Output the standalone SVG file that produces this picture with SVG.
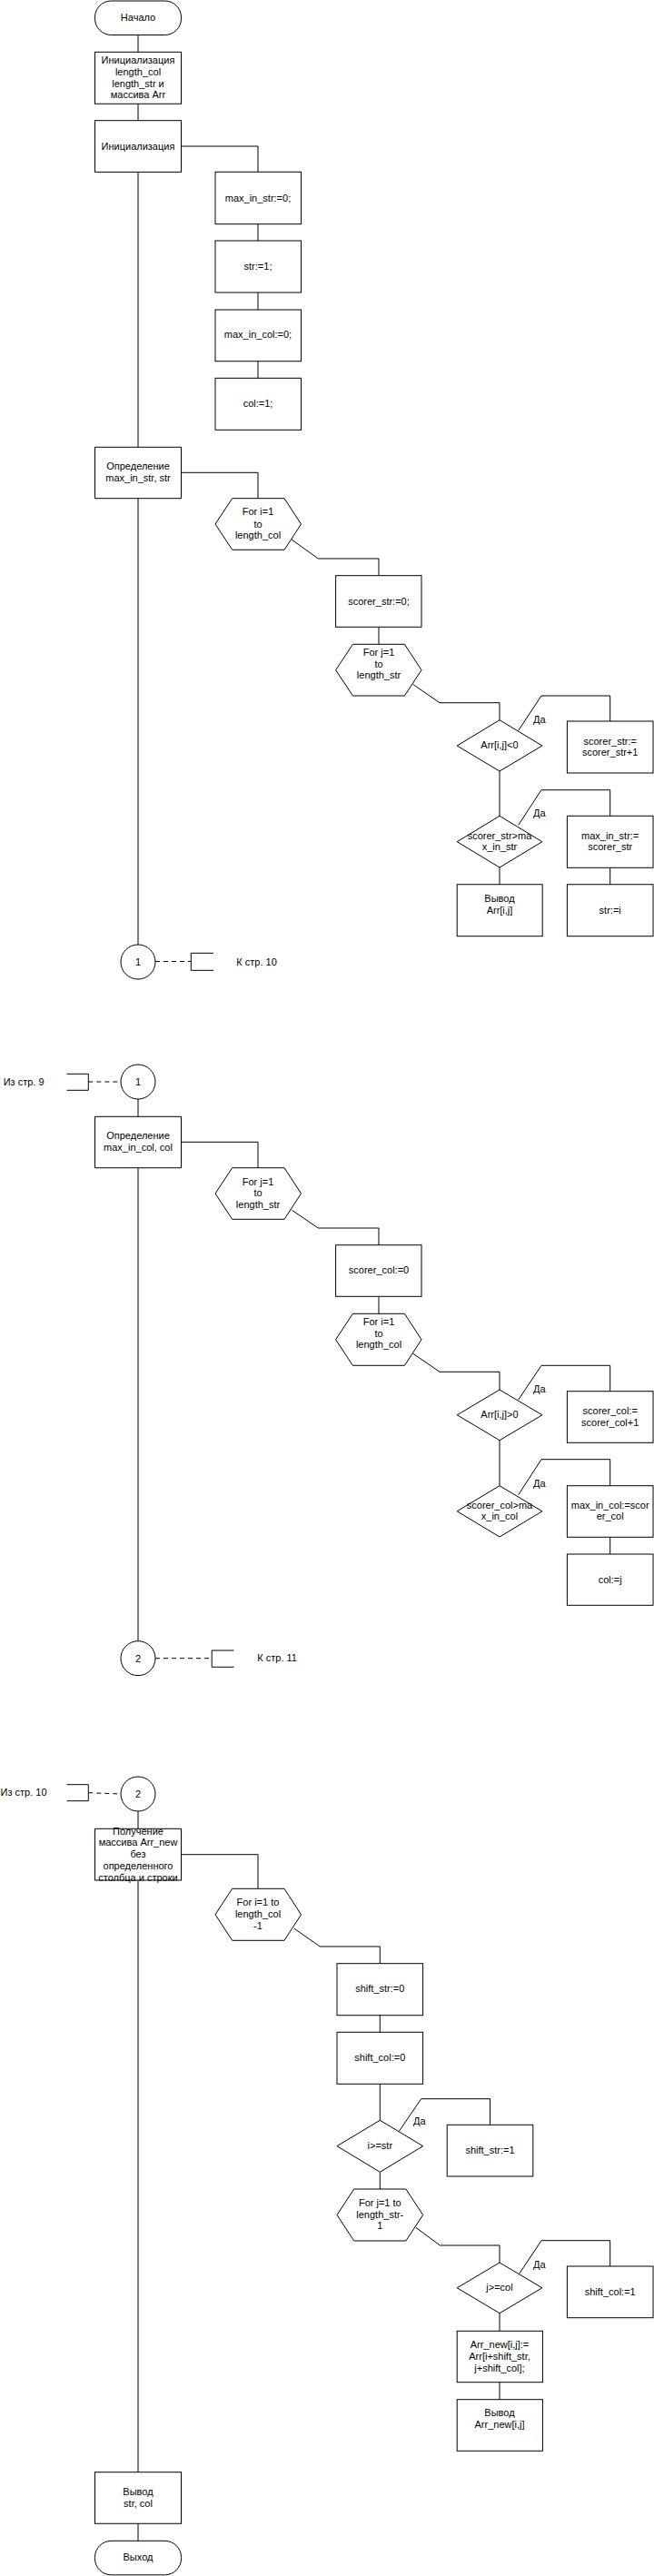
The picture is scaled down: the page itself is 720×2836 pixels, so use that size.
<svg xmlns="http://www.w3.org/2000/svg" width="720" height="2836" viewBox="0 0 720 2836">
<style>
.s{fill:#fff;stroke:#000;stroke-width:1}
.c{fill:none;stroke:#000;stroke-width:1}
.d{fill:none;stroke:#000;stroke-width:1;stroke-dasharray:5,4}
text{font-family:"Liberation Sans",Arial,sans-serif;font-size:11px;fill:#000}
.m{text-anchor:middle}
</style>
<rect width="720" height="2836" fill="#fff"/>
<g id="connectors">
<path class="c" d="M152 38.5V57.3M152 114.3V132.7M199.5 161H284V189.3M284 246.7V265M284 322V341M284 397.7V416.3M152 189.3V492.3"/>
<path class="c" d="M199.5 520.3H284V548.7M321 594L350.3 615H417V633.7M417 690.3V709.3M454.5 753.3L484 773.7H550V792.7M570.7 804.3L596 766H671.7V794M550 849V898.3M570.7 908.3L596 869.7H671.7V898.3M550 955V973.7M671.7 955V973.7M152 548.7V1040"/>
<path class="d" d="M171 1058.5H210.3"/>
<path class="c" d="M235 1049.3H210.3V1068.3H235"/>
<path class="c" d="M73.5 1182.3H97.3V1200.3H73.5"/>
<path class="d" d="M97.3 1191H133"/>
<path class="c" d="M152 1210V1229.3M199.5 1257.3H284V1285.7M321.4 1332.3L350.3 1352H417V1370.7M417 1427.3V1446.3M454.5 1490L484 1510.3H550V1530M570.7 1541L596 1503.3H671.7V1531.7M550 1585.7V1635.7M570.7 1645.7L596 1606.7H671.7V1635.7M671.7 1692.3V1711M152 1285.7V1807.3"/>
<path class="d" d="M171 1825.7H233.2"/>
<path class="c" d="M257.6 1817H233.2V1835.3H257.6"/>
<path class="c" d="M73.5 1964.7H97.3V1982.7H73.5"/>
<path class="d" d="M97.3 1973.7L133 1975"/>
<path class="c" d="M152 1994.3V2013.3M199.5 2041.7H284V2079.3M323.7 2123L352.2 2143H418.3V2161.7M418.3 2218.7V2237.3M418.3 2294.3V2334.3M439.4 2346.3L463.7 2310.7H539.5V2339.3M418.3 2391.3V2410M457.8 2452.3L484.4 2472H550V2491M571.6 2503.3L596 2466.7H671.7V2495M550 2546.7V2566.3M550 2622.7V2641.7M152 2070V2721.7M152 2778.3V2797.3"/>
</g>
<g id="start"><rect class="s" x="104.5" y="1" width="95" height="37.5" rx="18" ry="18"/><text class="m" x="152" y="23">Начало</text></g>
<g id="init1"><rect class="s" x="104.5" y="57.3" width="95" height="57"/><text class="m" x="152" y="70">Инициализация</text><text class="m" x="152" y="82.8">length_col</text><text class="m" x="152" y="95.6">length_str и</text><text class="m" x="152" y="108.4">массива Arr</text></g>
<g id="init2"><rect class="s" x="104.5" y="132.7" width="95" height="56.7"/><text class="m" x="152" y="164.7">Инициализация</text></g>
<g id="maxinstr0"><rect class="s" x="237" y="189.3" width="94.5" height="57.4"/><text class="m" x="284" y="222">max_in_str:=0;</text></g>
<g id="str1"><rect class="s" x="237" y="265" width="94.5" height="57"/><text class="m" x="284" y="297">str:=1;</text></g>
<g id="maxincol0"><rect class="s" x="237" y="341" width="94.5" height="56.7"/><text class="m" x="284" y="372">max_in_col:=0;</text></g>
<g id="col1"><rect class="s" x="237" y="416.3" width="94.5" height="57"/><text class="m" x="284" y="448">col:=1;</text></g>
<g id="defstr"><rect class="s" x="104.5" y="492.3" width="95" height="56.4"/><text class="m" x="152" y="517.3">Определение</text><text class="m" x="152" y="530.3">max_in_str, str</text></g>
<g id="loop1"><polygon class="s" points="237,577 255.7,548.7 313,548.7 331.5,577 313,605.3 255.7,605.3"/><text class="m" x="284" y="567.3">For i=1</text><text class="m" x="284" y="580.7">to</text><text class="m" x="284" y="593.3">length_col</text></g>
<g id="scorerstr0"><rect class="s" x="369.6" y="633.7" width="94.4" height="56.6"/><text class="m" x="417" y="665.7">scorer_str:=0;</text></g>
<g id="loop2"><polygon class="s" points="369.6,737.7 388.4,709.3 445.4,709.3 464,737.7 445.4,766 388.4,766"/><text class="m" x="417" y="721.7">For j=1</text><text class="m" x="417" y="734.7">to</text><text class="m" x="417" y="747.3">length_str</text></g>
<g id="cond1"><polygon class="s" points="503.2,821 550,792.7 596.9,821 550,849"/><text class="m" x="550" y="824">Arr[i,j]&lt;0</text><text x="587" y="795.5">Да</text></g>
<g id="inc1"><rect class="s" x="624.4" y="794" width="94.6" height="57"/><text class="m" x="671.7" y="819.7">scorer_str:=</text><text class="m" x="671.7" y="832.3">scorer_str+1</text></g>
<g id="cond2"><polygon class="s" points="503.2,926.7 550,898.3 596.9,926.7 550,955"/><text class="m" x="550" y="923.7">scorer_str&gt;ma</text><text class="m" x="550" y="936.3">x_in_str</text><text x="587" y="899">Да</text></g>
<g id="setmax1"><rect class="s" x="624.4" y="898.3" width="94.6" height="57"/><text class="m" x="671.7" y="923.7">max_in_str:=</text><text class="m" x="671.7" y="936.3">scorer_str</text></g>
<g id="out1"><rect class="s" x="503.2" y="973.7" width="94" height="57"/><text class="m" x="550" y="992.7">Вывод</text><text class="m" x="550" y="1005.7">Arr[i,j]</text></g>
<g id="stri"><rect class="s" x="624.4" y="973.7" width="94.6" height="57"/><text class="m" x="671.7" y="1005.7">str:=i</text></g>
<g id="conn1a"><circle class="s" cx="152" cy="1059" r="19"/><text class="m" x="152" y="1063">1</text><text x="260.3" y="1062.5">К стр. 10</text></g>
<g id="conn1b"><circle class="s" cx="152" cy="1191" r="19"/><text class="m" x="152" y="1195">1</text><text x="3.7" y="1194.7">Из стр. 9</text></g>
<g id="defcol"><rect class="s" x="104.5" y="1229.3" width="95" height="56.4"/><text class="m" x="152" y="1254.3">Определение</text><text class="m" x="152" y="1267.3">max_in_col, col</text></g>
<g id="loop3"><polygon class="s" points="237,1314 255.7,1285.7 313,1285.7 331.5,1314 313,1342.3 255.7,1342.3"/><text class="m" x="284" y="1304.7">For j=1</text><text class="m" x="284" y="1317.3">to</text><text class="m" x="284" y="1330">length_str</text></g>
<g id="scorercol0"><rect class="s" x="369.6" y="1370.7" width="94.4" height="56.6"/><text class="m" x="417" y="1402.3">scorer_col:=0</text></g>
<g id="loop4"><polygon class="s" points="369.6,1474.8 388.4,1446.3 445.4,1446.3 464,1474.8 445.4,1503.3 388.4,1503.3"/><text class="m" x="417" y="1458.7">For i=1</text><text class="m" x="417" y="1471.7">to</text><text class="m" x="417" y="1484.3">length_col</text></g>
<g id="cond3"><polygon class="s" points="503.2,1557.8 550,1530 596.9,1557.8 550,1585.7"/><text class="m" x="550" y="1561">Arr[i,j]&gt;0</text><text x="587" y="1533">Да</text></g>
<g id="inc2"><rect class="s" x="624.4" y="1531.7" width="94.6" height="56.6"/><text class="m" x="671.7" y="1556.7">scorer_col:=</text><text class="m" x="671.7" y="1569.7">scorer_col+1</text></g>
<g id="cond4"><polygon class="s" points="503.2,1663.8 550,1635.7 596.9,1663.8 550,1692"/><text class="m" x="550" y="1660.7">scorer_col&gt;ma</text><text class="m" x="550" y="1673.3">x_in_col</text><text x="587" y="1636.7">Да</text></g>
<g id="setmax2"><rect class="s" x="624.4" y="1635.7" width="94.6" height="56.6"/><text class="m" x="671.7" y="1660.7">max_in_col:=scor</text><text class="m" x="671.7" y="1673.3">er_col</text></g>
<g id="colj"><rect class="s" x="624.4" y="1711" width="94.6" height="56.3"/><text class="m" x="671.7" y="1742.7">col:=j</text></g>
<g id="conn2a"><circle class="s" cx="152" cy="1825.7" r="19"/><text class="m" x="152" y="1829.7">2</text><text x="283.3" y="1829">К стр. 11</text></g>
<g id="conn2b"><circle class="s" cx="152" cy="1975" r="19"/><text class="m" x="152" y="1979">2</text><text x="0.5" y="1977">Из стр. 10</text></g>
<g id="getnew"><rect class="s" x="104.5" y="2013.3" width="95" height="56.7"/><text class="m" x="152" y="2019.7">Получение</text><text class="m" x="152" y="2032.3">массива Arr_new</text><text class="m" x="152" y="2045.3">без</text><text class="m" x="152" y="2058">определенного</text><text class="m" x="152" y="2070.7">столбца и строки</text></g>
<g id="loop5"><polygon class="s" points="237,2107.8 255.7,2079.3 313,2079.3 331.5,2107.8 313,2136.3 255.7,2136.3"/><text class="m" x="284" y="2098">For i=1 to</text><text class="m" x="284" y="2111.3">length_col</text><text class="m" x="284" y="2123.7">-1</text></g>
<g id="shiftstr0"><rect class="s" x="371" y="2161.7" width="94.6" height="57"/><text class="m" x="418.3" y="2193.3">shift_str:=0</text></g>
<g id="shiftcol0"><rect class="s" x="371" y="2237.3" width="94.6" height="57"/><text class="m" x="418.3" y="2269">shift_col:=0</text></g>
<g id="cond5"><polygon class="s" points="371,2362.7 418.3,2334.3 465.6,2362.7 418.3,2391.3"/><text class="m" x="418.3" y="2366">i&gt;=str</text><text x="455" y="2339">Да</text></g>
<g id="shiftstr1"><rect class="s" x="492.2" y="2339.3" width="94.6" height="56.7"/><text class="m" x="539.5" y="2370.7">shift_str:=1</text></g>
<g id="loop6"><polygon class="s" points="371,2438.5 389.7,2410 446.9,2410 465.6,2438.5 446.9,2467 389.7,2467"/><text class="m" x="418.3" y="2429">For j=1 to</text><text class="m" x="418.3" y="2442">length_str-</text><text class="m" x="418.3" y="2454">1</text></g>
<g id="cond6"><polygon class="s" points="503.2,2518.8 550,2491 596.9,2518.8 550,2546.7"/><text class="m" x="550" y="2522.3">j&gt;=col</text><text x="587" y="2496.7">Да</text></g>
<g id="shiftcol1"><rect class="s" x="624.4" y="2495" width="94.6" height="56.7"/><text class="m" x="671.7" y="2526.7">shift_col:=1</text></g>
<g id="assign"><rect class="s" x="503.2" y="2566.3" width="94.2" height="56.4"/><text class="m" x="550" y="2585">Arr_new[i,j]:=</text><text class="m" x="550" y="2598">Arr[i+shift_str,</text><text class="m" x="550" y="2610.7">j+shift_col];</text></g>
<g id="out2"><rect class="s" x="503.2" y="2641.7" width="94.2" height="56.6"/><text class="m" x="550" y="2660">Вывод</text><text class="m" x="550" y="2673.3">Arr_new[i,j]</text></g>
<g id="out3"><rect class="s" x="104.5" y="2721.7" width="95" height="56.6"/><text class="m" x="152" y="2747.3">Вывод</text><text class="m" x="152" y="2760">str, col</text></g>
<g id="end"><rect class="s" x="104.5" y="2797.3" width="95" height="37.5" rx="18" ry="18"/><text class="m" x="152" y="2819.3">Выход</text></g>
</svg>
